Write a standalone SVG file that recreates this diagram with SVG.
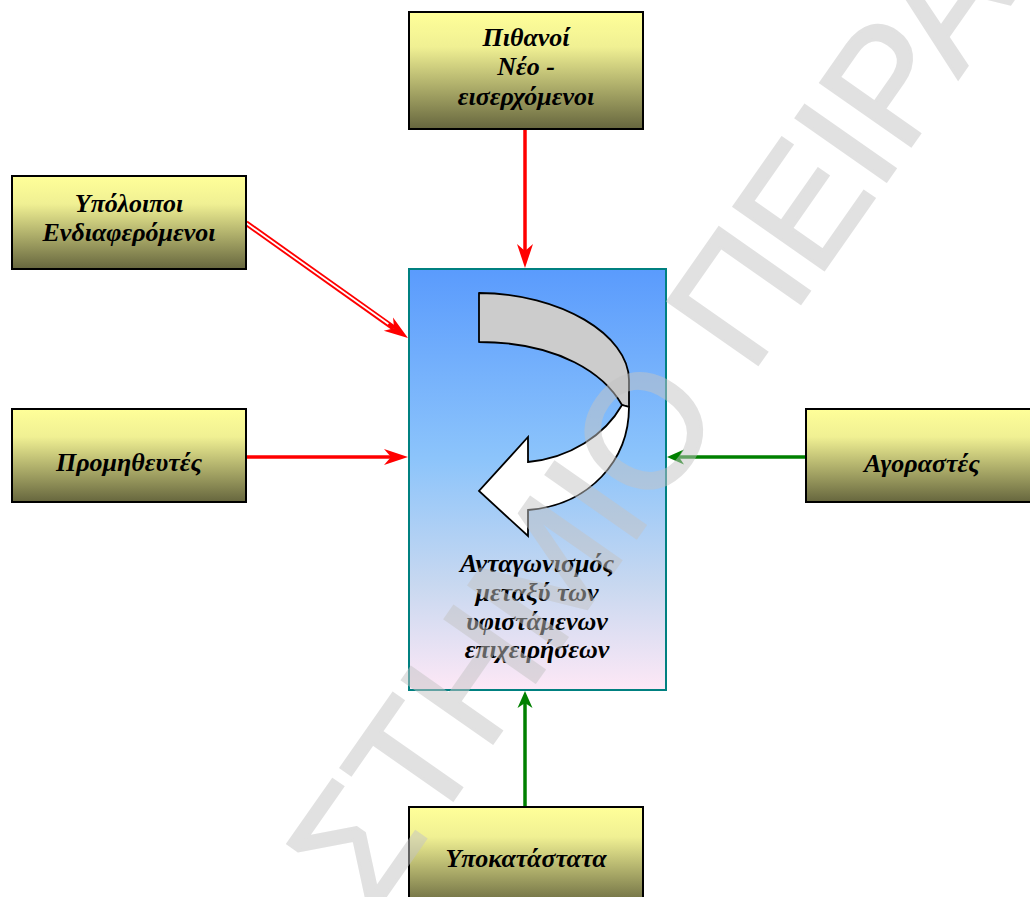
<svg xmlns="http://www.w3.org/2000/svg" width="1030" height="897" viewBox="0 0 1030 897">
<style>
.box{stroke:#000;stroke-width:2;fill:url(#yel)}
.lbl{font-family:"Liberation Serif","Times New Roman",serif;font-weight:bold;font-style:italic;font-size:26px;fill:#000;text-anchor:middle}
.red{stroke:#ff0000;stroke-width:3.5;fill:none}
.grn{stroke:#008000;stroke-width:3.5;fill:none}
.wm{font-family:"Liberation Sans",Arial,sans-serif;font-size:160px;fill:#c4c4c4;stroke:#c4c4c4;stroke-width:3}
</style>
<defs>
<linearGradient id="yel" x1="0" y1="0" x2="0" y2="1">
<stop offset="0" stop-color="#ffff99"/>
<stop offset="0.3" stop-color="#f0f093"/>
<stop offset="1" stop-color="#66663e"/>
</linearGradient>
<linearGradient id="blu" x1="0" y1="0" x2="0" y2="1">
<stop offset="0" stop-color="#5a9bfd"/>
<stop offset="0.45" stop-color="#8cc4fb"/>
<stop offset="0.75" stop-color="#c8d8f0"/>
<stop offset="1" stop-color="#fde8f6"/>
</linearGradient>
<marker id="rh" markerUnits="userSpaceOnUse" markerWidth="24" markerHeight="16" refX="7" refY="8" orient="auto" overflow="visible">
<path d="M0,0 L24,8 L0,16 L7,8 Z" fill="#ff0000"/>
</marker>
<marker id="gh" markerUnits="userSpaceOnUse" markerWidth="17" markerHeight="15" refX="5" refY="7.5" orient="auto" overflow="visible">
<path d="M0,0 L17,7.5 L0,15 L5,7.5 Z" fill="#008000"/>
</marker>
</defs>
<rect width="1030" height="897" fill="#fff"/>

<g id="connectors">
<line class="red" x1="525" y1="129" x2="525" y2="251" marker-end="url(#rh)"/>
<line class="red" x1="246" y1="457" x2="391" y2="457" marker-end="url(#rh)"/>
<line stroke="#ff0000" stroke-width="5.5" x1="246" y1="223" x2="394.1" y2="328.2" marker-end="url(#rh)"/>
<line stroke="#ffffff" stroke-width="1.8" x1="246" y1="223" x2="388.4" y2="324.1"/>
<line class="grn" x1="806" y1="457" x2="679" y2="457" marker-end="url(#gh)"/>
<line class="grn" x1="525" y1="807" x2="525" y2="703" marker-end="url(#gh)"/>
</g>

<g id="node-center">
<rect x="409" y="269" width="257" height="421" fill="url(#blu)" stroke="#008080" stroke-width="2"/>
<path d="M479,293 C560,293 629,335 629,380 L629,407 L622,405 C605,375 560,342 479,342 Z" fill="#cccccc" stroke="#000" stroke-width="1.8" stroke-linejoin="round"/>
<path d="M622,405 C605,435 570,458 528,462 L528,437 L479,491 L528,536 L528,510 C590,505 629,460 629,407 Z" fill="#ffffff" stroke="#000" stroke-width="1.8" stroke-linejoin="miter"/>
<text class="lbl"><tspan x="537" y="572">Ανταγωνισμός</tspan><tspan x="537" y="601">μεταξύ των</tspan><tspan x="537" y="630">υφιστάμενων</tspan><tspan x="537" y="658">επιχειρήσεων</tspan></text>
</g>

<g id="node-new">
<rect class="box" x="409" y="12" width="234" height="117"/>
<text class="lbl"><tspan x="526" y="46">Πιθανοί</tspan><tspan x="526" y="75">Νέο -</tspan><tspan x="526" y="105">εισερχόμενοι</tspan></text>
</g>

<g id="node-stakeholders">
<rect class="box" x="12" y="176" width="234" height="93"/>
<text class="lbl"><tspan x="129" y="212">Υπόλοιποι</tspan><tspan x="129" y="241">Ενδιαφερόμενοι</tspan></text>
</g>

<g id="node-suppliers">
<rect class="box" x="12" y="409" width="234" height="93"/>
<text class="lbl" x="129" y="471">Προμηθευτές</text>
</g>

<g id="node-buyers">
<rect class="box" x="806" y="409" width="234" height="93"/>
<text class="lbl" x="922" y="472">Αγοραστές</text>
</g>

<g id="node-substitutes">
<rect class="box" x="409" y="807" width="234" height="100"/>
<text class="lbl" x="526" y="867">Υποκατάστατα</text>
</g>

<g id="watermark" opacity="0.5" transform="translate(750.5,375) rotate(-55)">
<text class="wm" x="0" y="0">ΠΕΙΡΑ</text>
<text class="wm" x="-44.5" y="0" text-anchor="end">ΣΤΗΜΙΟ</text>
</g>
</svg>
